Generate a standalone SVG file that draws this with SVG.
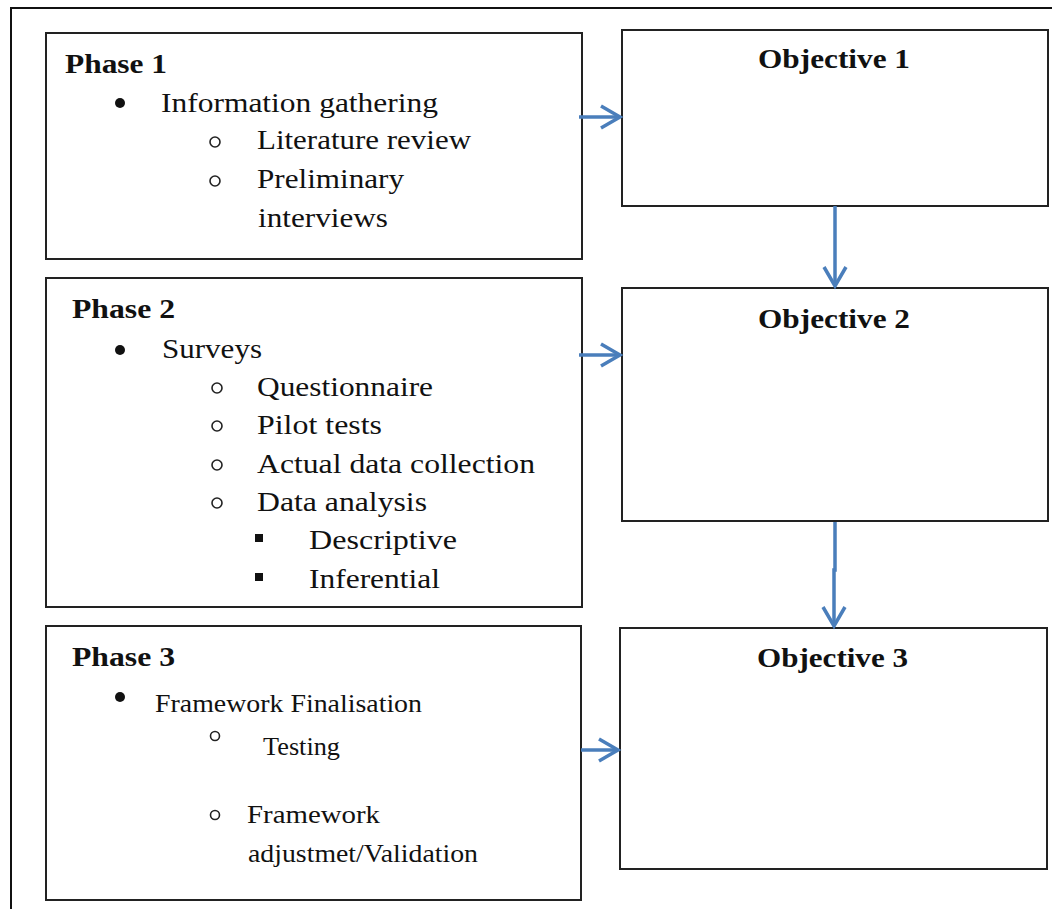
<svg xmlns="http://www.w3.org/2000/svg" width="1052" height="909" viewBox="0 0 1052 909">
  <defs>
    <style>
      .frame { fill: none; stroke: #111; stroke-width: 2; }
      .box { fill: #fff; stroke: #222; stroke-width: 2; }
      .head { font-family: "Liberation Serif", "Times New Roman", serif; font-weight: bold; font-size: 28px; fill: #111; }
      .obj { font-family: "Liberation Serif", "Times New Roman", serif; font-weight: bold; font-size: 27px; fill: #111; }
      .item { font-family: "Liberation Serif", "Times New Roman", serif; font-size: 28px; fill: #111; }
      .small { font-family: "Liberation Serif", "Times New Roman", serif; font-size: 25px; fill: #111; }
      .dot { fill: #111; }
      .ring { fill: none; stroke: #222; stroke-width: 1.6; }
      .sq { fill: #111; }
      .link { fill: none; stroke: #4a7ebb; stroke-width: 3.5; }
    </style>
    <marker id="chev" markerUnits="userSpaceOnUse" markerWidth="30" markerHeight="30" refX="20" refY="11" orient="auto" overflow="visible">
      <path d="M1,0 L20,11 L1,22" fill="none" stroke="#4a7ebb" stroke-width="3.5"/>
    </marker>
  </defs>

  <rect width="1052" height="909" fill="#fff"/>
  <!-- page frame, open to the right and bottom -->
  <rect class="frame" x="11" y="8" width="1100" height="1000"/>

  <g id="phase1">
    <rect class="box" x="46" y="33" width="536" height="226"/>
    <text class="head" x="65" y="73" textLength="102" lengthAdjust="spacingAndGlyphs">Phase 1</text>
    <circle class="dot" cx="120" cy="103" r="5"/>
    <text class="item" x="161" y="112" textLength="277" lengthAdjust="spacingAndGlyphs">Information gathering</text>
    <circle class="ring" cx="215" cy="142" r="5"/>
    <text class="item" x="257" y="149" textLength="214" lengthAdjust="spacingAndGlyphs">Literature review</text>
    <circle class="ring" cx="215" cy="181" r="5"/>
    <text class="item" x="257" y="188" textLength="147" lengthAdjust="spacingAndGlyphs">Preliminary</text>
    <text class="item" x="258" y="227" textLength="130" lengthAdjust="spacingAndGlyphs">interviews</text>
  </g>

  <g id="objective1">
    <rect class="box" x="622" y="30" width="426" height="176"/>
    <text class="obj" x="758" y="68" textLength="152" lengthAdjust="spacingAndGlyphs">Objective 1</text>
  </g>

  <g id="phase2">
    <rect class="box" x="46" y="278" width="536" height="329"/>
    <text class="head" x="72" y="318" textLength="103" lengthAdjust="spacingAndGlyphs">Phase 2</text>
    <circle class="dot" cx="120" cy="350" r="5"/>
    <text class="item" x="162" y="358" textLength="100" lengthAdjust="spacingAndGlyphs">Surveys</text>
    <circle class="ring" cx="217" cy="388" r="5"/>
    <text class="item" x="257" y="396" textLength="176" lengthAdjust="spacingAndGlyphs">Questionnaire</text>
    <circle class="ring" cx="217" cy="426" r="5"/>
    <text class="item" x="257" y="434" textLength="125" lengthAdjust="spacingAndGlyphs">Pilot tests</text>
    <circle class="ring" cx="217" cy="465" r="5"/>
    <text class="item" x="257" y="473" textLength="278" lengthAdjust="spacingAndGlyphs">Actual data collection</text>
    <circle class="ring" cx="217" cy="503" r="5"/>
    <text class="item" x="257" y="511" textLength="170" lengthAdjust="spacingAndGlyphs">Data analysis</text>
    <rect class="sq" x="255" y="534" width="8" height="8"/>
    <text class="item" x="309" y="549" textLength="148" lengthAdjust="spacingAndGlyphs">Descriptive</text>
    <rect class="sq" x="255" y="573" width="8" height="8"/>
    <text class="item" x="309" y="588" textLength="131" lengthAdjust="spacingAndGlyphs">Inferential</text>
  </g>

  <g id="objective2">
    <rect class="box" x="622" y="288" width="426" height="233"/>
    <text class="obj" x="758" y="328" textLength="152" lengthAdjust="spacingAndGlyphs">Objective 2</text>
  </g>

  <g id="phase3">
    <rect class="box" x="46" y="626" width="535" height="274"/>
    <text class="head" x="72" y="666" textLength="103" lengthAdjust="spacingAndGlyphs">Phase 3</text>
    <circle class="dot" cx="120" cy="697" r="5"/>
    <text class="small" x="155" y="712" textLength="267" lengthAdjust="spacingAndGlyphs">Framework Finalisation</text>
    <circle class="ring" cx="215" cy="736" r="4.5"/>
    <text class="small" x="263" y="755" textLength="77" lengthAdjust="spacingAndGlyphs">Testing</text>
    <circle class="ring" cx="215" cy="815" r="4.5"/>
    <text class="small" x="247" y="823" textLength="133" lengthAdjust="spacingAndGlyphs">Framework</text>
    <text class="small" x="248" y="862" textLength="230" lengthAdjust="spacingAndGlyphs">adjustmet/Validation</text>
  </g>

  <g id="objective3">
    <rect class="box" x="620" y="628" width="427" height="241"/>
    <text class="obj" x="757" y="667" textLength="151" lengthAdjust="spacingAndGlyphs">Objective 3</text>
  </g>

  <g id="connectors">
    <line class="link" x1="579" y1="117" x2="620" y2="117" marker-end="url(#chev)"/>
    <line class="link" x1="579" y1="355" x2="620" y2="355" marker-end="url(#chev)"/>
    <line class="link" x1="581" y1="750" x2="618" y2="750" marker-end="url(#chev)"/>
    <line class="link" x1="835" y1="206" x2="835" y2="286" marker-end="url(#chev)"/>
    <polyline class="link" points="835,522 835,570 834,570 834,626" marker-end="url(#chev)"/>
  </g>
</svg>
